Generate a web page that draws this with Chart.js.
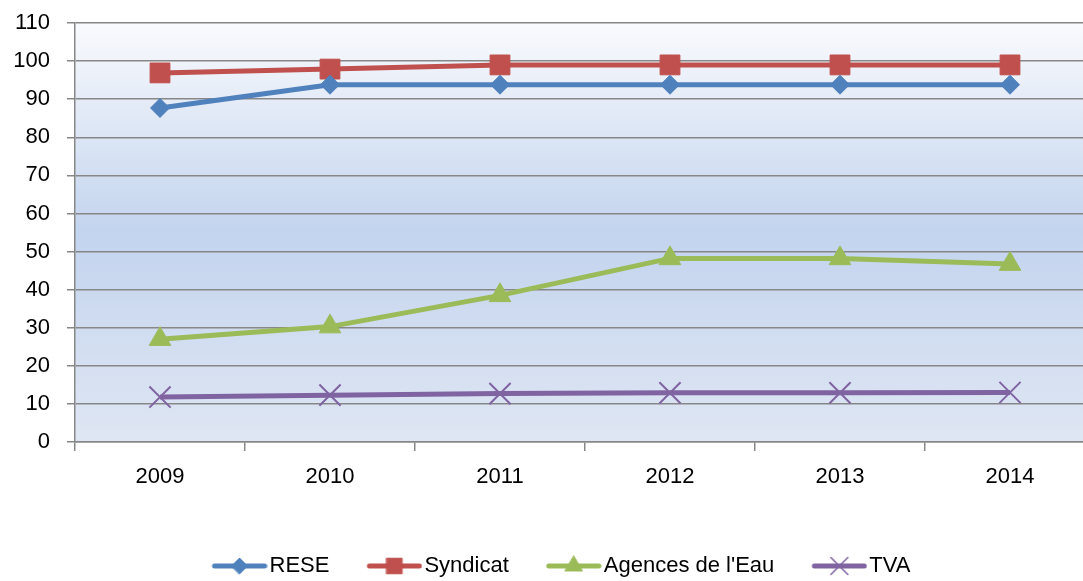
<!DOCTYPE html>
<html>
<head>
<meta charset="utf-8">
<script src="https://cdn.jsdelivr.net/npm/chart.js@4"></script>
<style>
  html, body { margin: 0; padding: 0; background: #fff; overflow: hidden; }
  .wrap { width: 1083px; height: 581px; overflow: hidden; }
  canvas { display: block; }
</style>
</head>
<body>
<div class="wrap"><canvas id="chart" width="1100" height="587"></canvas></div>
<script>
const years = ['2009', '2010', '2011', '2012', '2013', '2014'];
const rese = [87.7, 93.8, 93.8, 93.8, 93.8, 93.8];
const syndicat = [96.9, 97.9, 99, 99, 99, 99];
const agences = [27.0, 30.3, 38.5, 48.2, 48.2, 46.7];
const tva = [11.8, 12.3, 12.7, 12.9, 12.9, 13.0];
const yTicks = [0, 10, 20, 30, 40, 50, 60, 70, 80, 90, 100, 110];

const FONT = "'Liberation Sans', Arial, sans-serif";
const GRID = '#878787';

// Series look: colour + marker, the same in plot and legend
const series = [
    { label: 'RESE', data: rese, color: '#4f81bd', style: 'rectRot', radius: 9.5, legendRadius: 8 },
    { label: 'Syndicat', data: syndicat, color: '#c0504d', style: 'rect', radius: 14, legendRadius: 11 },
    { label: "Agences de l'Eau", data: agences, color: '#9bbb59', style: 'triangle', radius: 12.5, legendRadius: 10 },
    { label: 'TVA', data: tva, color: '#8064a2', style: 'crossRot', radius: 15, legendRadius: 12 }
];

// Legend swatch: a short line with the marker in its middle
const makeSwatch = (s) => {
    const c = document.createElement('canvas');
    c.width = 92;
    c.height = 26;
    const g = c.getContext('2d');
    g.strokeStyle = s.color;
    g.lineWidth = 5;
    g.lineCap = 'round';
    g.beginPath();
    g.moveTo(39, 13);
    g.lineTo(89, 13);
    g.stroke();
    g.fillStyle = s.color;
    g.lineWidth = s.style === 'crossRot' ? 1.5 : 1;
    Chart.helpers.drawPoint(g, { pointStyle: s.style, radius: s.legendRadius, rotation: 0, borderWidth: g.lineWidth }, 64, 13);
    return c;
};

// Plot background gradient, like the Office chart style
const plotBackground = {
    id: 'plotBackground',
    beforeDraw(chart) {
        const { ctx, chartArea: a } = chart;
        const grad = ctx.createLinearGradient(0, a.top, 0, a.bottom);
        grad.addColorStop(0, '#f9fafd');
        grad.addColorStop(0.5, '#c3d4ee');
        grad.addColorStop(1, '#dfe6f3');
        ctx.save();
        ctx.fillStyle = grad;
        ctx.fillRect(a.left, a.top, a.right - a.left, a.bottom - a.top);
        ctx.restore();
    }
};

new Chart(document.getElementById('chart'), {
    type: 'line',
    data: {
        labels: years,
        datasets: series.map(s => ({
            label: s.label,
            data: s.data,
            borderColor: s.color,
            backgroundColor: s.color,
            borderWidth: 5,
            tension: 0,
            pointStyle: s.style,
            pointRadius: s.radius,
            pointHoverRadius: s.radius,
            pointBackgroundColor: s.color,
            pointBorderColor: s.color,
            pointBorderWidth: s.style === 'crossRot' ? 2 : 1,
            swatch: makeSwatch(s)
        }))
    },
    options: {
        responsive: false,
        animation: false,
        // canvas is wider than the page: the plot runs past the right edge, as in the original
        layout: { autoPadding: false, padding: { top: 23, right: 5, bottom: 0, left: 0 } },
        plugins: {
            tooltip: { enabled: false },
            legend: {
                position: 'bottom',
                labels: {
                    color: '#000',
                    font: { family: FONT, size: 22 },
                    usePointStyle: true,
                    pointStyleWidth: 74,
                    padding: 10,
                    generateLabels: (chart) => chart.data.datasets.map((ds, i) => ({
                        text: ds.label,
                        pointStyle: ds.swatch,
                        fillStyle: ds.borderColor,
                        strokeStyle: ds.borderColor,
                        lineWidth: 0,
                        hidden: false,
                        datasetIndex: i
                    }))
                }
            }
        },
        scales: {
            x: {
                offset: true,
                afterFit: (scale) => {
                    scale.height = 103;
                    scale.paddingLeft = 0;
                    scale.paddingRight = 0;
                },
                grid: {
                    offset: true,
                    drawOnChartArea: false,
                    drawTicks: true,
                    tickLength: 9,
                    color: GRID,
                    lineWidth: 1.5
                },
                border: { color: GRID, width: 1.5 },
                ticks: {
                    color: '#000',
                    padding: 13,
                    font: { family: FONT, size: 22 }
                }
            },
            y: {
                min: 0,
                max: 110,
                afterFit: (scale) => {
                    scale.width = 75;
                    scale.paddingTop = 0;
                    scale.paddingBottom = 0;
                },
                afterBuildTicks: (scale) => { scale.ticks = yTicks.map(v => ({ value: v })); },
                grid: {
                    color: GRID,
                    lineWidth: 1.5,
                    tickLength: 8
                },
                border: { color: GRID, width: 1.5 },
                ticks: {
                    color: '#000',
                    padding: 17,
                    font: { family: FONT, size: 22 }
                }
            }
        }
    },
    plugins: [plotBackground]
});
</script>
</body>
</html>
